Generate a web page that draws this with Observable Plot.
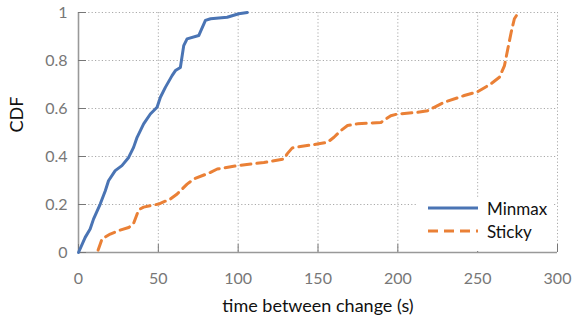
<!DOCTYPE html>
<html>
<head>
<meta charset="utf-8">
<script src="https://cdn.jsdelivr.net/npm/d3@7"></script>
<script src="https://cdn.jsdelivr.net/npm/@observablehq/plot@0.6"></script>
<style>
  html, body { margin: 0; padding: 0; background: #fff; }
  #wrap { position: relative; width: 576px; height: 325px; font-family: Lato, "DejaVu Sans", sans-serif; }
  #legend { position: absolute; left: 418px; top: 199px; width: 136px; height: 52px; background: #fff; }
  #legend svg { overflow: visible; display: block; }
</style>
</head>
<body>
<div id="wrap">
  <div id="chart"></div>
  <div id="legend"></div>
</div>
<script>
// Data
const minmaxX = [0, 4.2, 7.3, 9.4, 13.6, 16.8, 18.8, 23, 27.2, 31.4, 34.5, 36.7, 40.8, 45, 49.2, 51.3, 54.4, 58.6, 60.7, 63.8, 65.9, 68, 75.3, 79.5, 82.7, 93.1, 100.4, 105.7];
const minmaxY = [0, 0.063, 0.098, 0.139, 0.202, 0.257, 0.299, 0.341, 0.362, 0.396, 0.438, 0.48, 0.536, 0.577, 0.605, 0.647, 0.688, 0.737, 0.758, 0.771, 0.862, 0.89, 0.904, 0.967, 0.974, 0.98, 0.995, 1.0];

const stickyX = [12.3, 14.7, 19.9, 25.1, 31.4, 34.5, 37.7, 40.8, 50.2, 57.6, 61.8, 68, 72.2, 82.7, 86.9, 99.4, 116.1, 128.7, 130.8, 133.9, 149.6, 155.9, 160, 164.3, 168.5, 174.7, 189.4, 195.6, 199.8, 212.4, 218.7, 222.8, 229.1, 241.6, 250, 258.4, 263.6, 266.8, 268.9, 271, 273, 275.5];
const stickyY = [0.01, 0.056, 0.077, 0.091, 0.104, 0.121, 0.178, 0.189, 0.202, 0.223, 0.244, 0.285, 0.306, 0.334, 0.348, 0.362, 0.375, 0.39, 0.412, 0.436, 0.452, 0.459, 0.48, 0.508, 0.529, 0.536, 0.542, 0.57, 0.577, 0.584, 0.591, 0.605, 0.626, 0.654, 0.67, 0.703, 0.73, 0.779, 0.849, 0.918, 0.974, 1.0];

const seriesNames = ["Minmax", "Sticky"];
const seriesColors = ["#4a74b4", "#ea8036"];
const seriesDash = [null, "10,6"];

const xTicks = [0, 50, 100, 150, 200, 250, 300];
const yTicks = [0, 0.2, 0.4, 0.6, 0.8, 1];
const yTickLabels = ["0", "0.2", "0.4", "0.6", "0.8", "1"];

const xLabel = "time between change (s)";
const yLabel = "CDF";

const minmax = minmaxX.map((x, i) => ({x, y: minmaxY[i]}));
const sticky = stickyX.map((x, i) => ({x, y: stickyY[i]}));

const plot = Plot.plot({
  width: 576,
  height: 325,
  marginLeft: 78,
  marginRight: 19,
  marginTop: 12,
  marginBottom: 73,
  style: {fontFamily: "Lato, 'DejaVu Sans', sans-serif", background: "#fff"},
  x: {domain: [0, 300]},
  y: {domain: [0, 1]},
  marks: [
    Plot.gridX(xTicks, {stroke: "#aaa", strokeOpacity: 1, strokeDasharray: "1.2,2.2"}),
    Plot.gridY(yTicks, {stroke: "#aaa", strokeOpacity: 1, strokeDasharray: "1.2,2.2"}),
    Plot.ruleX([0], {stroke: "#999", strokeWidth: 1.6}),
    Plot.ruleY([0], {stroke: "#999", strokeWidth: 1.6}),
    Plot.axisX({ticks: xTicks, tickSize: 8, insetBottom: 8, tickPadding: 20, color: "#777", fontSize: 16, label: null}),
    Plot.axisY({ticks: yTicks, tickSize: 8, insetLeft: 8, tickPadding: 11, color: "#777", fontSize: 16, label: null,
      tickFormat: (d) => yTickLabels[yTicks.indexOf(d)]}),
    Plot.text([xLabel], {frameAnchor: "bottom", dy: 59, fontSize: 18, fill: "#111"}),
    Plot.text([yLabel], {frameAnchor: "left", dx: -61, rotate: -90, fontSize: 18, fill: "#111"}),
    Plot.line(sticky, {x: "x", y: "y", stroke: seriesColors[1], strokeWidth: 3, strokeDasharray: seriesDash[1]}),
    Plot.line(minmax, {x: "x", y: "y", stroke: seriesColors[0], strokeWidth: 3})
  ]
});
document.getElementById("chart").appendChild(plot);

// Legend
const lg = d3.select("#legend").append("svg").attr("width", 136).attr("height", 52);
seriesNames.forEach((name, i) => {
  const y = 9 + i * 23;
  lg.append("line").attr("x1", 10).attr("x2", 60).attr("y1", y).attr("y2", y)
    .attr("stroke", seriesColors[i]).attr("stroke-width", 3)
    .attr("stroke-dasharray", seriesDash[i]);
  lg.append("text").attr("x", 69).attr("y", y + 7)
    .attr("font-size", 17).attr("fill", "#111").text(name);
});
</script>
</body>
</html>
